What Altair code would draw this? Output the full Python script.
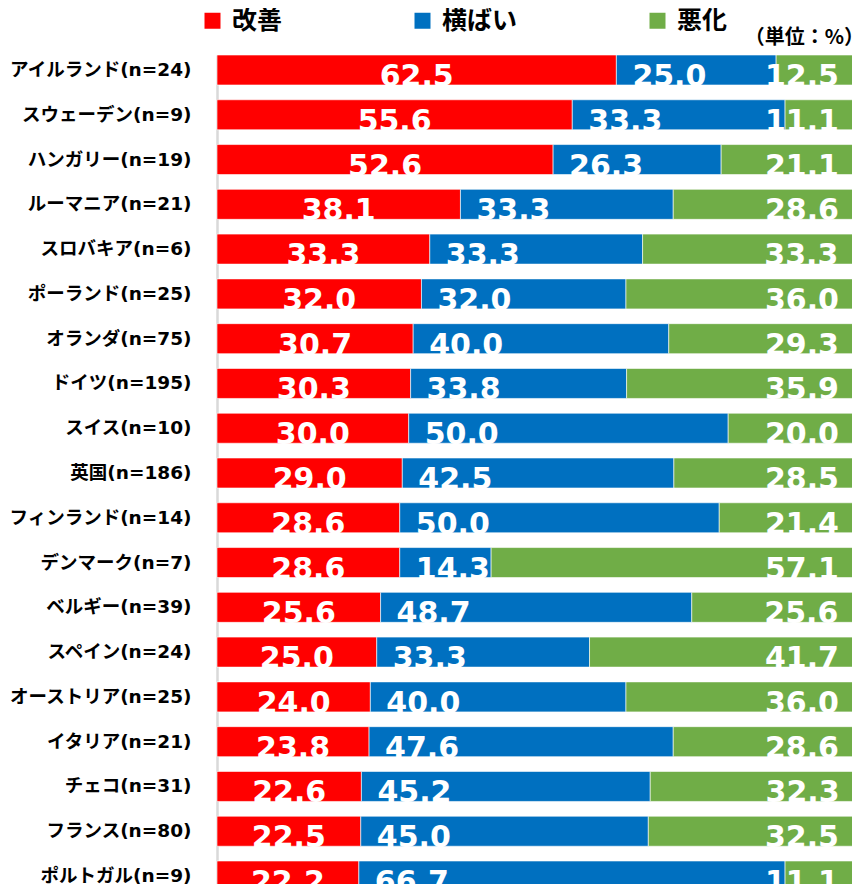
import altair as alt
import pandas as pd

countries = ["アイルランド(n=24)", "スウェーデン(n=9)", "ハンガリー(n=19)", "ルーマニア(n=21)",
             "スロバキア(n=6)", "ポーランド(n=25)", "オランダ(n=75)", "ドイツ(n=195)",
             "スイス(n=10)", "英国(n=186)", "フィンランド(n=14)", "デンマーク(n=7)",
             "ベルギー(n=39)", "スペイン(n=24)", "オーストリア(n=25)", "イタリア(n=21)",
             "チェコ(n=31)", "フランス(n=80)", "ポルトガル(n=9)"]
improve = [62.5, 55.6, 52.6, 38.1, 33.3, 32.0, 30.7, 30.3, 30.0, 29.0, 28.6, 28.6,
           25.6, 25.0, 24.0, 23.8, 22.6, 22.5, 22.2]
flat = [25.0, 33.3, 26.3, 33.3, 33.3, 32.0, 40.0, 33.8, 50.0, 42.5, 50.0, 14.3,
        48.7, 33.3, 40.0, 47.6, 45.2, 45.0, 66.7]
worse = [12.5, 11.1, 21.1, 28.6, 33.3, 36.0, 29.3, 35.9, 20.0, 28.5, 21.4, 57.1,
         25.6, 41.7, 36.0, 28.6, 32.3, 32.5, 11.1]
series = ["改善", "横ばい", "悪化"]
colors = ["#FF0000", "#0070C0", "#70AD47"]

rows = []
for i, c in enumerate(countries):
    s = 0.0
    for name, vals in zip(series, [improve, flat, worse]):
        v = vals[i]
        rows.append({"country": c, "series": name, "value": v,
                     "start": s, "end": s + v, "mid": s + v / 2})
        s += v
df = pd.DataFrame(rows)

JP = "DejaVu Sans, Noto Sans CJK JP"
NUM = "DejaVu Sans"

y_scale = alt.Scale(paddingInner=0.33, paddingOuter=0, range=[0, 836])
x_scale = alt.Scale(domain=[0, 100], nice=False, zero=True, range=[0, 639])

y_enc = alt.Y("country:N", sort=countries, scale=y_scale,
              axis=alt.Axis(title=None, ticks=False, grid=False,
                            domainColor="#D9D9D9", domainWidth=2.5,
                            labelFont=JP, labelFontSize=18.5, labelFontWeight="bold",
                            labelColor="#000000", labelPadding=26, labelLimit=300))

base = alt.Chart(df)

bars = base.mark_bar(stroke="white", strokeWidth=0.6).encode(
    y=y_enc,
    x=alt.X("start:Q", scale=x_scale, axis=None),
    x2="end:Q",
    color=alt.Color("series:N",
                    scale=alt.Scale(domain=series, range=colors),
                    legend=alt.Legend(title=None, orient="none", legendX=-17, legendY=-47,
                                      direction="horizontal", symbolType="square",
                                      symbolSize=256, symbolStrokeWidth=0,
                                      labelFont="Noto Sans CJK JP", labelFontSize=25,
                                      labelFontWeight="bold", labelColor="#000000",
                                      columnPadding=127, labelOffset=7, padding=0)),
)

def labels(name, xfield, align, dx):
    return base.transform_filter(alt.datum.series == name).mark_text(
        font=NUM, fontSize=30, fontWeight="bold", color="white",
        align=align, baseline="alphabetic", dx=dx, dy=16,
    ).encode(
        y=alt.Y("country:N", sort=countries, scale=y_scale),
        x=alt.X(f"{xfield}:Q", scale=x_scale),
        text=alt.Text("value:Q", format=".1f"),
    )

chart = alt.layer(
    bars,
    labels("改善", "mid", "center", 0),
    labels("横ばい", "start", "left", 16),
    labels("悪化", "end", "right", -17),
).properties(
    width=635, height=829,
    title=alt.TitleParams("（単位：%）", anchor="end", font="Noto Sans CJK JP",
                          fontSize=20, fontWeight="bold", color="#000000",
                          offset=0, dy=40, dx=12, frame="group"),
    autosize=alt.AutoSizeParams(type="none"),
    padding={"top": 47, "left": 209, "right": 0, "bottom": 0},
).configure_view(stroke=None)

chart.save("out.html", embed_options={"renderer": "svg", "actions": False})
